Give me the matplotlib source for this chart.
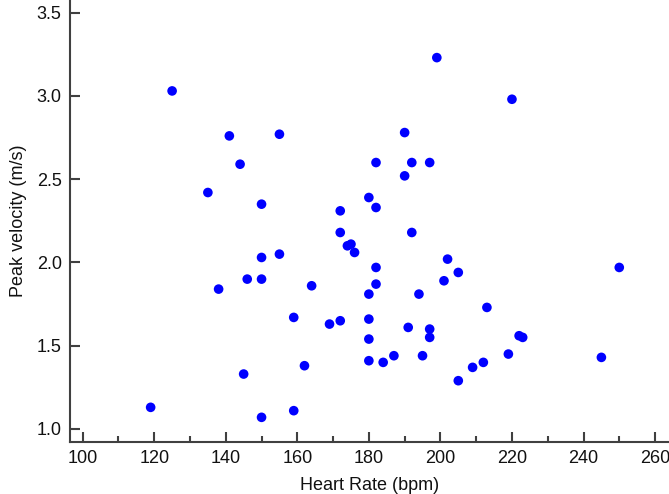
import matplotlib
matplotlib.use('Agg')
import matplotlib.pyplot as plt
from matplotlib.ticker import MultipleLocator

# heart rate (bpm) and peak velocity (m/s)
heart_rate = [119, 125, 135, 138, 141, 144, 145, 146, 150, 150,
              150, 150, 155, 155, 159, 159, 162, 164, 169, 172,
              172, 172, 174, 175, 176, 180, 180, 180, 180, 180,
              182, 182, 182, 182, 184, 187, 190, 190, 191, 192,
              192, 194, 195, 197, 197, 197, 199, 201, 202, 205,
              205, 209, 212, 213, 219, 220, 222, 223, 245, 250]
peak_velocity = [1.13, 3.03, 2.42, 1.84, 2.76, 2.59, 1.33, 1.90, 2.35, 2.03,
                 1.90, 1.07, 2.77, 2.05, 1.67, 1.11, 1.38, 1.86, 1.63, 2.31,
                 2.18, 1.65, 2.10, 2.11, 2.06, 2.39, 1.81, 1.66, 1.54, 1.41,
                 2.60, 2.33, 1.97, 1.87, 1.40, 1.44, 2.78, 2.52, 1.61, 2.60,
                 2.18, 1.81, 1.44, 2.60, 1.60, 1.55, 3.23, 1.89, 2.02, 1.94,
                 1.29, 1.37, 1.40, 1.73, 1.45, 2.98, 1.56, 1.55, 1.43, 1.97]

x_ticks = [100, 120, 140, 160, 180, 200, 220, 240, 260]
y_ticks = [1.0, 1.5, 2.0, 2.5, 3.0, 3.5]

plt.rcParams['font.family'] = ['Liberation Sans', 'DejaVu Sans']

fig = plt.figure(figsize=(6.69, 4.94), dpi=100)
ax = fig.add_axes([0.1046, 0.1053, 0.8954, 0.8947])

ax.scatter(heart_rate, peak_velocity, s=48, color='#0000ff', edgecolors='none', zorder=3)

ax.set_xlim(96.45, 263.9)
ax.set_ylim(0.922, 3.576)
ax.set_xticks(x_ticks)
ax.set_yticks(y_ticks)
ax.set_yticklabels(['%.1f' % v for v in y_ticks])
ax.xaxis.set_minor_locator(MultipleLocator(10))

for side in ['top', 'right']:
    ax.spines[side].set_visible(False)
for side in ['left', 'bottom']:
    ax.spines[side].set_color('#404040')
    ax.spines[side].set_linewidth(1.5)

ax.tick_params(axis='both', which='major', direction='in', length=7.5, width=1.5,
               color='#404040', labelsize=13, labelcolor='#111111')
ax.tick_params(axis='y', pad=6)
ax.tick_params(axis='x', pad=6)
ax.tick_params(axis='x', which='minor', direction='in', length=4, width=1.5, color='#404040')

ax.set_xlabel('Heart Rate (bpm)', fontsize=13, color='#111111', labelpad=7)
ax.set_ylabel('Peak velocity (m/s)', fontsize=13, color='#111111', labelpad=7)

fig.savefig('out.png', dpi=100)
